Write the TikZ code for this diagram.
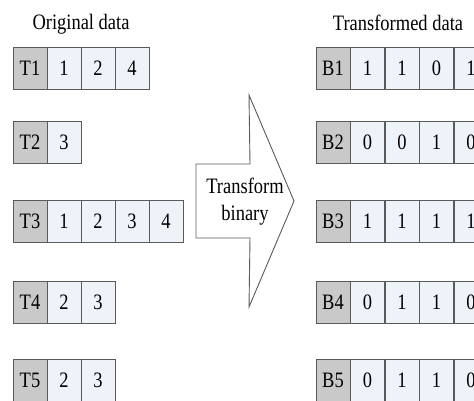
\documentclass[tikz,border=0pt]{standalone}
\usepackage{fontspec}
\setmainfont[FakeStretch=0.84]{Liberation Serif}
\usepackage{tikz}
\definecolor{labelgray}{HTML}{C9C9C9}
\definecolor{cellblue}{HTML}{EEF2F9}
\definecolor{linegray}{HTML}{5A5A5A}

\begin{document}
\begin{tikzpicture}[x=1pt,y=-1pt]
        \tikzset{cell/.style = {shape=rectangle,draw=linegray,line width=0.9pt,fill=cellblue,
                minimum width=34pt,minimum height=42pt,inner sep=0pt,
                font=\fontsize{22}{26}\selectfont}}
        \tikzset{tag/.style = {cell,fill=labelgray}}
        \tikzset{title/.style = {font=\fontsize{22}{26}\selectfont}}
        \useasboundingbox (0,0) rectangle (474,400);
        \clip (0,0) rectangle (474,400);

        % titles
        \node[title] (orig) at (81,24) {Original data};
        \node[title] (trans) at (398,23) {Transformed data};

        % original rows
        \node[tag] (t1) at (30,68) {T1};
        \node[cell] (t11) at (64,68) {1};
        \node[cell] (t12) at (98,68) {2};
        \node[cell] (t13) at (132,68) {4};

        \node[tag] (t2) at (30,142.5) {T2};
        \node[cell] (t21) at (64,142.5) {3};

        \node[tag] (t3) at (30,221.5) {T3};
        \node[cell] (t31) at (64,221.5) {1};
        \node[cell] (t32) at (98,221.5) {2};
        \node[cell] (t33) at (132,221.5) {3};
        \node[cell] (t34) at (166,221.5) {4};

        \node[tag] (t4) at (30,302.5) {T4};
        \node[cell] (t41) at (64,302.5) {2};
        \node[cell] (t42) at (98,302.5) {3};

        \node[tag] (t5) at (30,380) {T5};
        \node[cell] (t51) at (64,380) {2};
        \node[cell] (t52) at (98,380) {3};

        % transformed rows
        \node[tag] (b1) at (333,68) {B1};
        \node[cell] (b11) at (367.5,68) {1};
        \node[cell] (b12) at (402,68) {1};
        \node[cell] (b13) at (436.5,68) {0};
        \node[cell] (b14) at (471,68) {1};

        \node[tag] (b2) at (333,142.5) {B2};
        \node[cell] (b21) at (367.5,142.5) {0};
        \node[cell] (b22) at (402,142.5) {0};
        \node[cell] (b23) at (436.5,142.5) {1};
        \node[cell] (b24) at (471,142.5) {0};

        \node[tag] (b3) at (333,221.5) {B3};
        \node[cell] (b31) at (367.5,221.5) {1};
        \node[cell] (b32) at (402,221.5) {1};
        \node[cell] (b33) at (436.5,221.5) {1};
        \node[cell] (b34) at (471,221.5) {1};

        \node[tag] (b4) at (333,302.5) {B4};
        \node[cell] (b41) at (367.5,302.5) {0};
        \node[cell] (b42) at (402,302.5) {1};
        \node[cell] (b43) at (436.5,302.5) {1};
        \node[cell] (b44) at (471,302.5) {0};

        \node[tag] (b5) at (333,380) {B5};
        \node[cell] (b51) at (367.5,380) {0};
        \node[cell] (b52) at (402,380) {1};
        \node[cell] (b53) at (436.5,380) {1};
        \node[cell] (b54) at (471,380) {0};

        % big arrow
        \draw[linegray, line width=0.9pt, fill=white, line join=miter]
                (196,164) -- (250,164) -- (249,95) -- (294,201)
                -- (249,307) -- (250,238) -- (196,238) -- cycle;
        \node[title, align=center] (step) at (245,202) {Transform\\[1pt]binary};
\end{tikzpicture}
\end{document}
